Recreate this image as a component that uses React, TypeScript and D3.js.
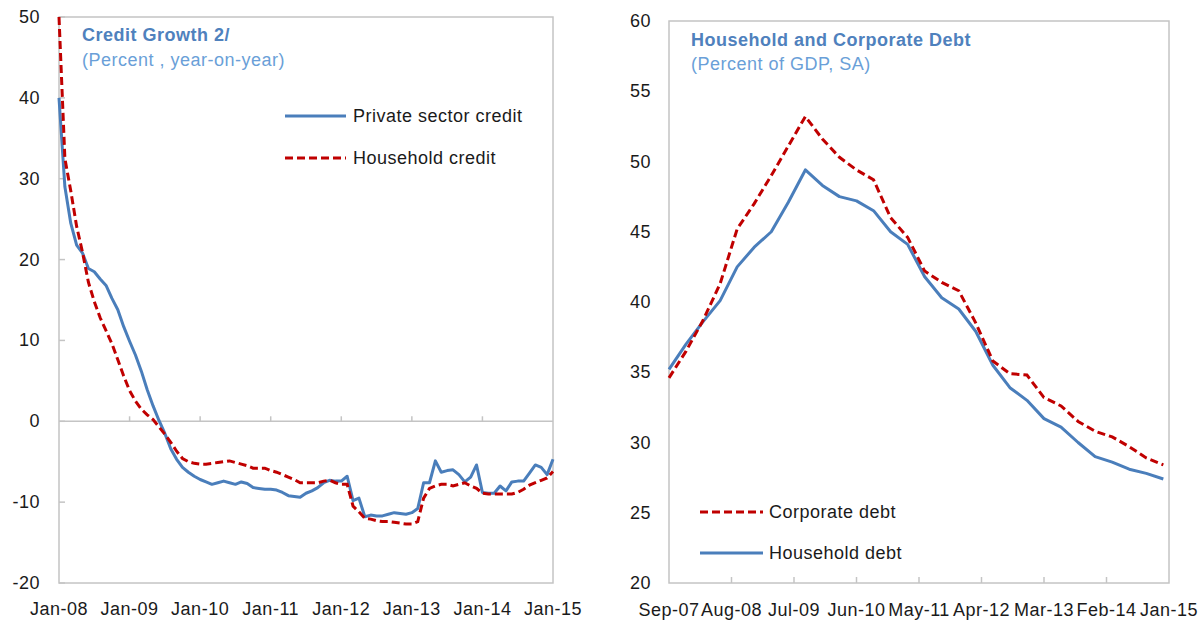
import React, { useEffect, useRef } from 'react';
import * as d3 from 'd3';

// Left panel: monthly, Jan-08 .. Jan-15
const creditTicks = ['Jan-08', 'Jan-09', 'Jan-10', 'Jan-11', 'Jan-12', 'Jan-13', 'Jan-14', 'Jan-15'];
const privateCredit = [
  40, 29, 24.5, 21.8, 20.8, 18.9, 18.5, 17.6, 16.8, 15.2, 13.8, 11.7,
  9.9, 8.2, 6.2, 3.9, 1.9, 0.1, -1.5, -3.4, -4.7, -5.7, -6.3, -6.8,
  -7.2, -7.5, -7.8, -7.6, -7.4, -7.6, -7.8, -7.5, -7.7, -8.2, -8.3, -8.4,
  -8.4, -8.5, -8.8, -9.2, -9.3, -9.4, -8.9, -8.6, -8.2, -7.6, -7.3, -7.4,
  -7.4, -6.8, -9.8, -9.5, -11.8, -11.6, -11.7, -11.7, -11.5, -11.3, -11.4, -11.5,
  -11.3, -10.8, -7.6, -7.6, -4.9, -6.3, -6.1, -6.0, -6.6, -7.5, -6.9, -5.4,
  -8.8, -8.9, -8.9, -8.0, -8.6, -7.5, -7.4, -7.4, -6.4, -5.4, -5.7, -6.6,
  -4.7,
];
const householdCredit = [
  50, 32.5, 28.5, 24.1, 20.9, 17.2, 14.8, 12.8, 11.2, 9.6, 7.6, 5.6,
  3.8, 2.5, 1.5, 0.8, 0.2, -0.7, -1.6, -2.6, -3.7, -4.6, -5.0, -5.2,
  -5.3, -5.3, -5.2, -5.1, -5.0, -4.9, -5.1, -5.3, -5.5, -5.8, -5.8, -5.8,
  -6.1, -6.3, -6.6, -6.9, -7.2, -7.6, -7.6, -7.6, -7.6, -7.4, -7.3, -7.6,
  -7.8, -7.8, -10.5, -11.2, -12.0, -12.1, -12.3, -12.4, -12.4, -12.5, -12.6, -12.7,
  -12.7, -12.4, -9.5, -8.3, -8.0, -7.8, -7.8, -8.0, -7.8, -7.6, -8.0, -8.3,
  -8.9, -9.0, -9.0, -9.0, -9.0, -9.0, -8.8, -8.4, -7.9, -7.6, -7.3, -7.0,
  -6.2,
];

// Right panel: quarterly, Sep-07 .. Dec-14, on a monthly category axis Sep-07 .. Jan-15
const debtTicks = ['Sep-07', 'Aug-08', 'Jul-09', 'Jun-10', 'May-11', 'Apr-12', 'Mar-13', 'Feb-14', 'Jan-15'];
const corporateDebt = [
  34.6, 36.5, 38.7, 41.3, 45.2, 47.0, 49.0, 51.1, 53.2, 51.6,
  50.3, 49.4, 48.7, 46.0, 44.6, 42.2, 41.4, 40.8, 38.5, 35.8,
  34.9, 34.8, 33.2, 32.6, 31.5, 30.8, 30.4, 29.7, 28.9, 28.4,
];
const householdDebt = [
  35.2, 37.0, 38.6, 40.1, 42.5, 43.9, 45.0, 47.1, 49.4, 48.3,
  47.5, 47.2, 46.5, 45.0, 44.1, 41.8, 40.3, 39.5, 37.9, 35.5,
  33.9, 33.0, 31.7, 31.1, 30.0, 29.0, 28.6, 28.1, 27.8, 27.4,
];

const BLUE = '#4a7ebb';
const RED = '#c00000';
const FONT = '"Liberation Sans", Arial, sans-serif';

export default function App() {
  const ref = useRef<SVGSVGElement>(null);

  useEffect(() => {
    const svg = d3.select(ref.current);
    svg.selectAll('*').remove();

    // ---------- Left: Credit Growth ----------
    const L = { left: 59, right: 553, top: 17, bottom: 583 };
    const xL = d3.scaleLinear().domain([0, 84]).range([L.left, L.right]);
    const yL = d3.scaleLinear().domain([-20, 50]).range([L.bottom, L.top]);
    const gL = svg.append('g');

    gL.append('rect')
      .attr('x', L.left).attr('y', L.top)
      .attr('width', L.right - L.left).attr('height', L.bottom - L.top)
      .attr('fill', 'none').attr('stroke', '#c4c4c4').attr('stroke-width', 1.5);

    gL.append('line')
      .attr('x1', L.left).attr('x2', L.right)
      .attr('y1', yL(0)).attr('y2', yL(0))
      .attr('stroke', '#c4c4c4').attr('stroke-width', 1.5);

    yL.ticks(7).forEach(v => {
      gL.append('line')
        .attr('x1', L.left).attr('x2', L.left + 6)
        .attr('y1', yL(v)).attr('y2', yL(v))
        .attr('stroke', '#c4c4c4').attr('stroke-width', 1.5);
      gL.append('text')
        .attr('x', 40).attr('y', yL(v))
        .attr('text-anchor', 'end').attr('dominant-baseline', 'central')
        .text(v);
    });

    creditTicks.forEach((t, i) => {
      const x = xL(i * 12);
      if (i > 0 && i < creditTicks.length - 1) {
        gL.append('line')
          .attr('x1', x).attr('x2', x)
          .attr('y1', yL(0)).attr('y2', yL(0) - 5)
          .attr('stroke', '#c4c4c4').attr('stroke-width', 1.5);
      }
      gL.append('text')
        .attr('x', x).attr('y', 609)
        .attr('text-anchor', 'middle').attr('dominant-baseline', 'central')
        .text(t);
    });

    const lineL = d3.line<number>().x((_, i) => xL(i)).y(d => yL(d));
    gL.append('path').datum(privateCredit)
      .attr('fill', 'none').attr('stroke', BLUE).attr('stroke-width', 3)
      .attr('stroke-linejoin', 'round').attr('d', lineL);
    gL.append('path').datum(householdCredit)
      .attr('fill', 'none').attr('stroke', RED).attr('stroke-width', 3)
      .attr('stroke-dasharray', '8,4').attr('d', lineL);

    gL.append('text').attr('x', 82).attr('y', 41)
      .attr('fill', '#4f81bd').attr('font-weight', 'bold')
      .text('Credit Growth 2/');
    gL.append('text').attr('x', 82).attr('y', 66)
      .attr('fill', '#6a9fd8')
      .text('(Percent , year-on-year)');

    const legL = [
      { label: 'Private sector credit', color: BLUE, dash: null, y: 116 },
      { label: 'Household credit', color: RED, dash: '8,4', y: 158 },
    ];
    legL.forEach(l => {
      gL.append('line')
        .attr('x1', 285).attr('x2', 346).attr('y1', l.y).attr('y2', l.y)
        .attr('stroke', l.color).attr('stroke-width', 3)
        .attr('stroke-dasharray', l.dash);
      gL.append('text').attr('x', 353).attr('y', l.y)
        .attr('dominant-baseline', 'central').text(l.label);
    });

    // ---------- Right: Household and Corporate Debt ----------
    const R = { left: 669, right: 1169, top: 21, bottom: 583 };
    const xR = d3.scaleLinear().domain([0, 88]).range([R.left, R.right]);
    const yR = d3.scaleLinear().domain([20, 60]).range([R.bottom, R.top]);
    const gR = svg.append('g');

    gR.append('rect')
      .attr('x', R.left).attr('y', R.top)
      .attr('width', R.right - R.left).attr('height', R.bottom - R.top)
      .attr('fill', 'none').attr('stroke', '#c4c4c4').attr('stroke-width', 1.5);

    yR.ticks(8).forEach(v => {
      gR.append('text')
        .attr('x', 651).attr('y', yR(v))
        .attr('text-anchor', 'end').attr('dominant-baseline', 'central')
        .text(v);
    });

    debtTicks.forEach((t, i) => {
      const x = xR(i * 11);
      if (i > 0 && i < debtTicks.length - 1) {
        gR.append('line')
          .attr('x1', x).attr('x2', x)
          .attr('y1', R.bottom).attr('y2', R.bottom - 6)
          .attr('stroke', '#c4c4c4').attr('stroke-width', 1.5);
      }
      gR.append('text')
        .attr('x', x).attr('y', 610)
        .attr('text-anchor', 'middle').attr('dominant-baseline', 'central')
        .text(t);
    });

    const lineR = d3.line<number>().x((_, i) => xR(i * 3)).y(d => yR(d));
    gR.append('path').datum(householdDebt)
      .attr('fill', 'none').attr('stroke', BLUE).attr('stroke-width', 3)
      .attr('stroke-linejoin', 'round').attr('d', lineR);
    gR.append('path').datum(corporateDebt)
      .attr('fill', 'none').attr('stroke', RED).attr('stroke-width', 3)
      .attr('stroke-dasharray', '8,4').attr('d', lineR);

    gR.append('text').attr('x', 691).attr('y', 46)
      .attr('fill', '#4f81bd').attr('font-weight', 'bold')
      .text('Household and Corporate Debt');
    gR.append('text').attr('x', 691).attr('y', 70)
      .attr('fill', '#6a9fd8')
      .text('(Percent of GDP, SA)');

    const legR = [
      { label: 'Corporate debt', color: RED, dash: '8,4', y: 512 },
      { label: 'Household debt', color: BLUE, dash: null, y: 553 },
    ];
    legR.forEach(l => {
      gR.append('line')
        .attr('x1', 700).attr('x2', 763).attr('y1', l.y).attr('y2', l.y)
        .attr('stroke', l.color).attr('stroke-width', 3)
        .attr('stroke-dasharray', l.dash);
      gR.append('text').attr('x', 769).attr('y', l.y)
        .attr('dominant-baseline', 'central').text(l.label);
    });
  }, []);

  return (
    <svg
      ref={ref}
      width={1199}
      height={624}
      style={{ position: 'absolute', left: 0, top: 0, background: '#fff', fontFamily: FONT, fontSize: 18, letterSpacing: 0.5, fill: '#1a1a1a' }}
    />
  );
}
